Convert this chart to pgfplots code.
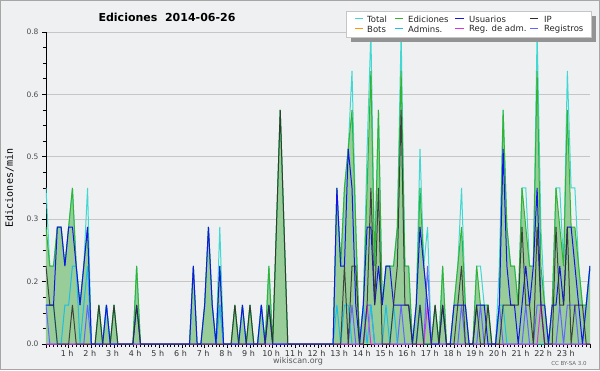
\documentclass[border=0pt]{standalone}
\usepackage{pgfplots}
\pgfplotsset{compat=1.18}
\usepackage{pgfplotstable}
\usepackage{fontspec}
\setmainfont{DejaVu Sans}
\newfontfamily\monofont{DejaVu Sans Mono}
\definecolor{bgc}{RGB}{238,240,242}
\definecolor{ctotal}{RGB}{64,216,208}
\definecolor{ced}{RGB}{50,180,50}
\definecolor{cfill}{RGB}{152,204,152}
\definecolor{cusu}{RGB}{20,20,230}
\definecolor{cip}{RGB}{45,45,45}
\definecolor{cbots}{RGB}{255,153,0}
\definecolor{cadm}{RGB}{30,190,230}
\definecolor{cradm}{RGB}{220,50,230}
\definecolor{creg}{RGB}{100,100,255}
\pgfplotstableread{
i T E U P A R M
0 .4 .3 .1 .2 .1 .1 0
1 .2 .2 .1 .1 .1 0 0
2 .2 .2 .1 .1 .1 0 0
3 .3 .3 .3 0 0 0 0
4 .3 .3 .3 0 0 0 0
5 .2 .2 .2 0 .1 0 0
6 .3 .3 .3 0 .1 0 0
7 .4 .4 .3 .1 .2 0 0
8 .2 .2 .2 0 .2 0 0
9 .1 .1 .1 0 0 0 0
10 .2 .2 .2 0 .1 0 0
11 .4 .3 .3 0 .2 .1 0
12 0 0 0 0 0 0 0
13 0 0 0 0 0 0 0
14 .1 .1 0 .1 0 0 0
15 0 0 0 0 0 0 0
16 .1 .1 .1 0 .1 0 0
17 0 0 0 0 0 0 0
18 .1 .1 0 .1 0 0 0
19 0 0 0 0 0 0 0
20 0 0 0 0 0 0 0
21 0 0 0 0 0 0 0
22 0 0 0 0 0 0 0
23 0 0 0 0 0 0 0
24 .2 .2 .1 .1 0 0 0
25 0 0 0 0 0 0 0
26 0 0 0 0 0 0 0
27 0 0 0 0 0 0 0
28 0 0 0 0 0 0 0
29 0 0 0 0 0 0 0
30 0 0 0 0 0 0 0
31 0 0 0 0 0 0 0
32 0 0 0 0 0 0 0
33 0 0 0 0 0 0 0
34 0 0 0 0 0 0 0
35 0 0 0 0 0 0 0
36 0 0 0 0 0 0 0
37 0 0 0 0 0 0 0
38 0 0 0 0 0 0 0
39 .2 .2 .2 0 0 0 0
40 0 0 0 0 0 0 0
41 0 0 0 0 0 0 0
42 .1 .1 .1 0 0 0 0
43 .3 .3 .3 0 0 0 0
44 .1 .1 .1 0 0 0 0
45 0 0 0 0 0 0 0
46 .3 .2 .2 0 .1 .1 0
47 0 0 0 0 0 0 0
48 0 0 0 0 0 0 0
49 0 0 0 0 0 0 0
50 .1 .1 0 .1 0 0 0
51 0 0 0 0 0 0 0
52 .1 .1 .1 0 0 0 0
53 0 0 0 0 0 0 0
54 .1 .1 0 .1 0 0 0
55 0 0 0 0 0 0 0
56 0 0 0 0 0 0 0
57 .1 .1 .1 0 .1 0 0
58 0 0 0 0 0 0 0
59 .2 .2 .1 .1 0 0 0
60 0 0 0 0 0 0 0
61 .3 .3 0 .3 0 0 0
62 .6 .6 0 .6 0 0 0
63 .3 .3 0 .3 0 0 0
64 0 0 0 0 0 0 0
65 0 0 0 0 0 0 0
66 0 0 0 0 0 0 0
67 0 0 0 0 0 0 0
68 0 0 0 0 0 0 0
69 0 0 0 0 0 0 0
70 0 0 0 0 0 0 0
71 0 0 0 0 0 0 0
72 0 0 0 0 0 0 0
73 0 0 0 0 0 0 0
74 0 0 0 0 0 0 0
75 0 0 0 0 0 0 0
76 0 0 0 0 0 0 0
77 .4 .4 .4 0 .1 0 0
78 .2 .2 .2 0 0 0 0
79 .4 .4 .2 .2 .1 0 0
80 .5 .5 .5 0 .1 0 0
81 .7 .6 .4 .2 0 .1 0
82 .3 .3 .1 .2 0 0 0
83 0 0 0 0 0 0 0
84 .1 .1 .1 0 .1 0 0
85 .5 .4 .3 .1 0 .1 .1
86 .8 .7 .3 .4 .1 .1 0
87 .2 .2 .1 .1 0 0 0
88 .6 .6 .2 .4 0 0 0
89 .1 .1 .1 0 0 0 0
90 .2 .2 .2 0 .1 0 0
91 .2 .2 .2 0 0 0 0
92 .2 .2 .1 .1 .1 0 0
93 .3 .3 .1 .2 0 0 0
94 .8 .7 .1 .6 0 .1 0
95 .2 .2 .1 .1 0 0 0
96 .2 .2 .1 .1 0 0 0
97 0 0 0 0 0 0 0
98 .1 .1 .1 0 0 0 0
99 .5 .4 .3 .1 .1 .1 0
100 .2 .2 .2 0 0 0 0
101 .3 .1 .1 0 0 .2 .1
102 0 0 0 0 0 0 0
103 .1 .1 0 .1 0 0 0
104 0 0 0 0 0 0 0
105 .2 .2 .1 .1 0 0 0
106 0 0 0 0 0 0 0
107 0 0 0 0 0 0 0
108 .1 .1 .1 0 0 0 0
109 .2 .2 .1 .1 0 0 0
110 .4 .3 .1 .2 0 .1 0
111 .1 .1 .1 0 0 0 0
112 0 0 0 0 0 0 0
113 0 0 0 0 0 0 0
114 .2 .2 .1 .1 0 0 0
115 .2 .1 .1 0 0 .1 0
116 .1 .1 .1 0 0 0 0
117 .1 .1 0 .1 0 0 0
118 0 0 0 0 0 0 0
119 0 0 0 0 0 0 0
120 .2 .1 .1 0 .1 .1 0
121 .6 .6 .5 .1 .1 0 0
122 .3 .3 .2 .1 0 0 0
123 .2 .2 .1 .1 0 0 0
124 .2 .2 .1 .1 0 0 0
125 .1 .1 0 .1 0 0 0
126 .4 .4 .1 .3 0 0 0
127 .4 .3 .2 .1 0 .1 0
128 .2 .2 .1 .1 0 0 0
129 .2 .2 .2 0 0 0 0
130 .8 .7 .4 .3 0 .1 0
131 .3 .2 .1 .1 0 .1 .1
132 .1 .1 .1 0 0 0 0
133 0 0 0 0 0 0 0
134 .1 .1 .1 0 0 0 0
135 .4 .4 .1 .3 0 0 0
136 .4 .3 .2 .1 0 .1 0
137 .2 .2 .1 .1 0 0 0
138 .7 .6 .3 .3 0 .1 0
139 .4 .3 .3 0 0 .1 0
140 .4 .3 .2 .1 0 .1 0
141 .2 .2 .1 .1 0 0 0
142 .1 .1 0 .1 0 0 0
143 .1 .1 .1 0 .1 0 0
144 .2 .2 .2 0 .2 0 0
}\datatab
\begin{document}
\begin{tikzpicture}[x=1pt,y=1pt]
\useasboundingbox (0,0) rectangle (600,370);
\fill[bgc] (0,0) rectangle (600,370);
\draw[gray!70, line width=1pt] (0.5,0.5) rectangle (599.5,369.5);
\begin{axis}[
  at={(46pt,26pt)}, anchor=south west,
  scale only axis, width=544pt, height=312pt,
  xmin=0, xmax=144, ymin=0, ymax=0.8,
  axis x line*=bottom, axis y line*=left,
  axis line style={black, line width=0.8pt, -},
  xtick={0,6,...,144},
  xticklabels={,1 h,2 h,3 h,4 h,5 h,6 h,7 h,8 h,9 h,10 h,11 h,12 h,13 h,14 h,15 h,16 h,17 h,18 h,19 h,20 h,21 h,22 h,23 h,},
  minor x tick num=5,
  ytick={0,0.16,0.32,0.48,0.64,0.8},
  yticklabels={0.0,0.2,0.3,0.5,0.6,0.8},
  minor y tick num=3,
  tick align=outside,
  major tick length=4pt, minor tick length=3pt,
  tick style={black, line width=0.6pt},
  ymajorgrids, grid style={gray!45, line width=0.6pt},
  /pgf/number format/assume math mode=true,
  xticklabel style={font=\fontsize{8}{9}\selectfont, text=black!80, xshift=-1.5pt, yshift=1pt},
  yticklabel style={font=\fontsize{7.5}{9}\selectfont, text=black!70},
  clip=true,
]
\addplot[fill=cfill, draw=none] table[x=i, y=E] {\datatab} \closedcycle;
\addplot[ctotal, line width=1pt] table[x=i, y=T] {\datatab};
\addplot[ced, line width=1pt] table[x=i, y=E] {\datatab};
\addplot[creg, line width=1pt] table[x=i, y=R] {\datatab};
\addplot[cadm, line width=1pt] table[x=i, y=A] {\datatab};
\addplot[cradm, line width=1pt] table[x=i, y=M] {\datatab};
\addplot[cusu, line width=1pt] table[x=i, y=U] {\datatab};
\addplot[cip, line width=1pt, opacity=0.85] table[x=i, y=P] {\datatab};
\end{axis}
% legend
\fill[gray!85] (351,327.5) rectangle (596,353.5);
\fill[white] (346,332.5) rectangle (591,358.5);
\draw[gray!45, line width=0.6pt] (346,332.5) rectangle (591,358.5);
\begin{scope}[every node/.style={anchor=west, inner sep=0pt, font=\fontsize{8.5}{9.5}\selectfont, text=black!85}]
\draw[ctotal, line width=1pt] (355,351) -- (363,351); \node at (367,351) {Total};
\draw[ced, line width=1pt] (395,351) -- (403,351); \node at (408,351) {Ediciones};
\draw[cusu, line width=1pt] (455,351) -- (464,351); \node at (469,351) {Usuarios};
\draw[cip, line width=1pt] (530,351) -- (538,351); \node at (544,351) {IP};
\draw[cbots, line width=1pt] (355,341) -- (363,341); \node at (367,341) {Bots};
\draw[cadm, line width=1pt] (395,341) -- (403,341); \node at (408,341) {Admins.};
\draw[cradm, line width=1pt] (455,341) -- (464,341); \node at (469,341) {Reg. de adm.};
\draw[creg, line width=1pt] (530,341) -- (538,341); \node at (544,341) {Registros};
\end{scope}
\node[font=\bfseries\fontsize{11}{13}\selectfont] at (167,353) {Ediciones\ \ 2014-06-26};
\node[rotate=90, font=\monofont\fontsize{10}{12}\selectfont] at (9.5,182) {Ediciones/min};
\node[font=\fontsize{8}{9}\selectfont, text=black!65] at (298,9) {wikiscan.org};
\node[font=\fontsize{5.5}{6}\selectfont, text=black!60] at (569,7) {CC BY-SA 3.0};
\end{tikzpicture}
\end{document}
